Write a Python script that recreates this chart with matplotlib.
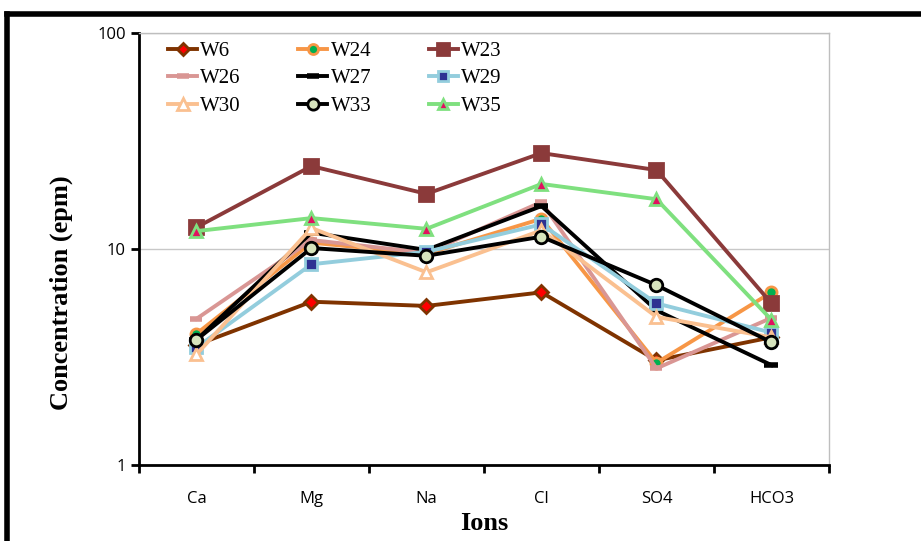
import matplotlib.pyplot as plt
from matplotlib.lines import Line2D

# --- DATA ---
ions = ['Ca', 'Mg', 'Na', 'Cl', 'SO4', 'HCO3']

w6 = [3.6, 5.7, 5.45, 6.3, 3.05, 3.9]
w24 = [4.05, 10.7, 9.5, 13.8, 2.97, 6.3]
w23 = [12.6, 24.2, 18.0, 27.8, 23.2, 5.6]
w26 = [4.75, 11.0, 9.6, 16.5, 2.8, 4.8]
w27 = [3.8, 11.9, 9.9, 15.8, 5.2, 2.9]
w29 = [3.5, 8.5, 9.7, 13.0, 5.6, 4.1]
w30 = [3.25, 12.5, 7.8, 12.2, 4.85, 3.9]
w33 = [3.8, 10.1, 9.3, 11.4, 6.8, 3.7]
w35 = [12.1, 13.9, 12.4, 20.0, 17.0, 4.7]

# name, values, line colour, marker, marker face, marker edge, marker size
series = [
    ('W6', w6, '#7F3300', 'D', '#FF0000', '#7F3300', 7),
    ('W24', w24, '#F79646', 'o', '#00B050', '#F79646', 8),
    ('W23', w23, '#8B3A3A', 's', '#8B3A3A', '#8B3A3A', 10),
    ('W26', w26, '#D99694', '_', '#D99694', '#D99694', 9),
    ('W27', w27, '#000000', '_', '#000000', '#000000', 10),
    ('W29', w29, '#93CDDD', 's', '#2E3192', '#93CDDD', 8),
    ('W30', w30, '#FAC090', '^', '#FFFFFF', '#FAC090', 9),
    ('W33', w33, '#000000', 'o', '#D7E4BD', '#000000', 9),
    ('W35', w35, '#7FE07F', '^', '#E0115F', '#7FE07F', 8),
]

fig = plt.figure(figsize=(9.21, 5.41), dpi=100)
ax = fig.add_axes([0.1509, 0.1405, 0.7492, 0.7985])

x = [i + 0.5 for i in range(len(ions))]
handles = {}
for name, vals, col, mk, mfc, mec, ms in series:
    mew = 4 if mk == '_' else 2
    h, = ax.plot(x, vals, color=col, lw=2.8, marker=mk, markersize=ms,
                 markerfacecolor=mfc, markeredgecolor=mec, markeredgewidth=mew,
                 label=name)
    handles[name] = h

ax.set_yscale('log')
ax.set_ylim(1, 100)
ax.set_xlim(0, len(ions))
ax.set_yticks([1, 10, 100])
ax.set_yticklabels(['1', '10', '100'])
ax.minorticks_off()
ax.set_xticks(range(len(ions) + 1))
ax.set_xticklabels([])
ax.set_xticks(x, minor=True)
ax.set_xticklabels(ions, minor=True, fontsize=12, family='Open Sans')
ax.tick_params(axis='x', which='minor', length=0, pad=19)
ax.tick_params(axis='x', which='major', length=6, width=2, direction='out')
ax.tick_params(axis='y', which='major', length=6, width=2, direction='out',
               labelsize=12)
for lbl in ax.get_yticklabels():
    lbl.set_family('Open Sans')

ax.yaxis.grid(True, which='major', color='#C8C8C8', lw=1)
ax.set_axisbelow(True)
for side in ['top', 'right']:
    ax.spines[side].set_color('#BEBEBE')
    ax.spines[side].set_linewidth(1)
for side in ['left', 'bottom']:
    ax.spines[side].set_linewidth(2)

ax.set_ylabel('Concentration (epm)', fontsize=19, fontweight='bold',
              family='Liberation Serif')
ax.yaxis.set_label_coords(-0.096, 0.40)
ax.set_xlabel('Ions', fontsize=19, fontweight='bold',
              family='Liberation Serif')
ax.xaxis.set_label_coords(0.5, -0.108)

# legend reads row by row: W6 W24 W23 / W26 W27 W29 / W30 W33 W35
order = ['W6', 'W26', 'W30', 'W24', 'W27', 'W33', 'W23', 'W29', 'W35']
ax.legend([handles[n] for n in order], order, loc='upper left', ncol=3,
          frameon=False, prop={'family': 'Liberation Serif', 'size': 15},
          handlelength=1.4, handletextpad=0.15, columnspacing=2.75,
          labelspacing=0.38, borderaxespad=0.0, bbox_to_anchor=(0.03, 1.0),
          markerscale=0.9)

# outer frame of the picture
fig.add_artist(Line2D([0.008, 0.008], [0.0, 0.975], transform=fig.transFigure,
                      color='black', lw=4))
fig.add_artist(Line2D([0.008, 1.0], [0.975, 0.975], transform=fig.transFigure,
                      color='black', lw=4))

fig.savefig('out.png', dpi=100)
